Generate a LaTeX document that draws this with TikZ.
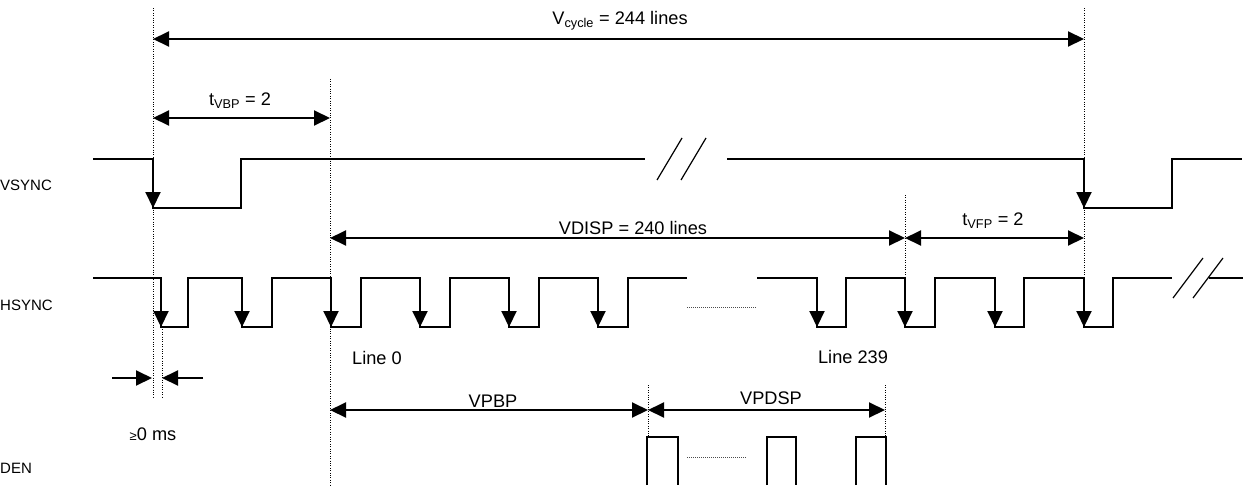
\documentclass[tikz,border=0pt]{standalone}
\usepackage{fontspec}
\setmainfont{Liberation Sans}
\usetikzlibrary{arrows.meta}
\begin{document}
\begin{tikzpicture}[x=1pt,y=-1pt,>={Triangle[length=16pt,width=15pt]},line join=miter,
	font=\fontsize{18.2}{21}\selectfont,
	sig/.style={line width=2pt},
	dim/.style={line width=2pt,<->},
	guide/.style={line width=1pt,dash pattern=on 1pt off 1.4pt},
	gap/.style={line width=.9pt,dash pattern=on 1pt off 1pt,black!70},
	sname/.style={anchor=west,inner sep=0pt,font=\fontsize{15}{17}\selectfont}]
	\useasboundingbox (0,0) rectangle (1260,485);
	\path (153,39)coordinate (cycA) (1084,39)coordinate (cycB)
	(153,118)coordinate (vbpA) (330,118)coordinate (vbpB)
	(330,238)coordinate (dispA) (905,238)coordinate (dispB) (1084,238)coordinate (vfpB)
	(330,410)coordinate (pbpA) (648,410)coordinate (pbpB) (885,410)coordinate (pdspB)
	(112,378)coordinate (gA) (152,378)coordinate (gB) (203,378)coordinate (gC) (162,378)coordinate (gD);
	\node[sname] (vsync) at (0,185) {VSYNC};
	\node[sname] (hsync) at (0,305) {HSYNC};
	\node[sname] (den) at (0,468) {DEN};
	\foreach \x/\a/\b in {153/8/397,162/327/397,330/79/485,905/195/278,1084/8/278,648/385/437,885/385/437}{
		\draw[guide] (\x,\a)--(\x,\b);
		}
	\draw[dim] (cycA)--(cycB);
	\draw[dim] (vbpA)--(vbpB);
	\draw[dim] (dispA)--(dispB);
	\draw[dim] (dispB)--(vfpB);
	\draw[dim] (pbpA)--(pbpB);
	\draw[dim] (pbpB)--(pdspB);
	\draw[sig,->] (gA)--(gB);
	\draw[sig,->] (gC)--(gD);
	\node (cyc) at (620,21) {V\textsubscript{cycle} = 244 lines};
	\node (vbp) at (240,101) {t\textsubscript{VBP} = 2};
	\node (disp) at (633,228) {VDISP = 240 lines};
	\node (vfp) at (993,221) {t\textsubscript{VFP} = 2};
	\node (pbp) at (493,401) {VPBP};
	\node (pdsp) at (771,398) {VPDSP};
	\node (ge) at (153,434) {{\fontsize{13}{15}\selectfont ≥}0 ms};
	\node (l0) at (377,358) {Line 0};
	\node (l239) at (853,357) {Line 239};
	% VSYNC
	\draw[sig] (93,159)--(153,159)--(153,208)--(241,208)--(241,159)--(645,159);
	\draw[sig] (727,159)--(1084,159)--(1084,208)--(1172,208)--(1172,159)--(1242,159);
	\draw[line width=1.2pt] (657,180)--(682,138) (681,180)--(706,138);
	\foreach \f in {153,1084}{
		\draw[sig,->] (\f,159)--(\f,208);
		}
	% HSYNC
	\draw[sig] (93,278) \foreach \f/\r in {161/188,242/272,331/361,420/450,509/539,598/628}{
		--(\f,278)--(\f,327)--(\r,327)--(\r,278)} --(687,278);
	\draw[sig] (757,278) \foreach \f/\r in {817/846,905/935,995/1024,1084/1113}{
		--(\f,278)--(\f,327)--(\r,327)--(\r,278)} --(1172,278);
	\draw[sig] (1209,278)--(1243,278);
	\draw[line width=1.2pt] (1173,298)--(1203,258) (1193,298)--(1223,258);
	\foreach \f in {161,242,331,420,509,598,817,905,995,1084}{
		\draw[sig,->] (\f,278)--(\f,327);
		}
	\draw[gap] (687,307)--(757,307);
	% DEN
	\foreach \a/\b in {647/678,767/796,856/886}{
		\draw[sig] (\a,485)--(\a,437)--(\b,437)--(\b,485);
		}
	\draw[gap] (687,457)--(747,457);
\end{tikzpicture}
\end{document}
